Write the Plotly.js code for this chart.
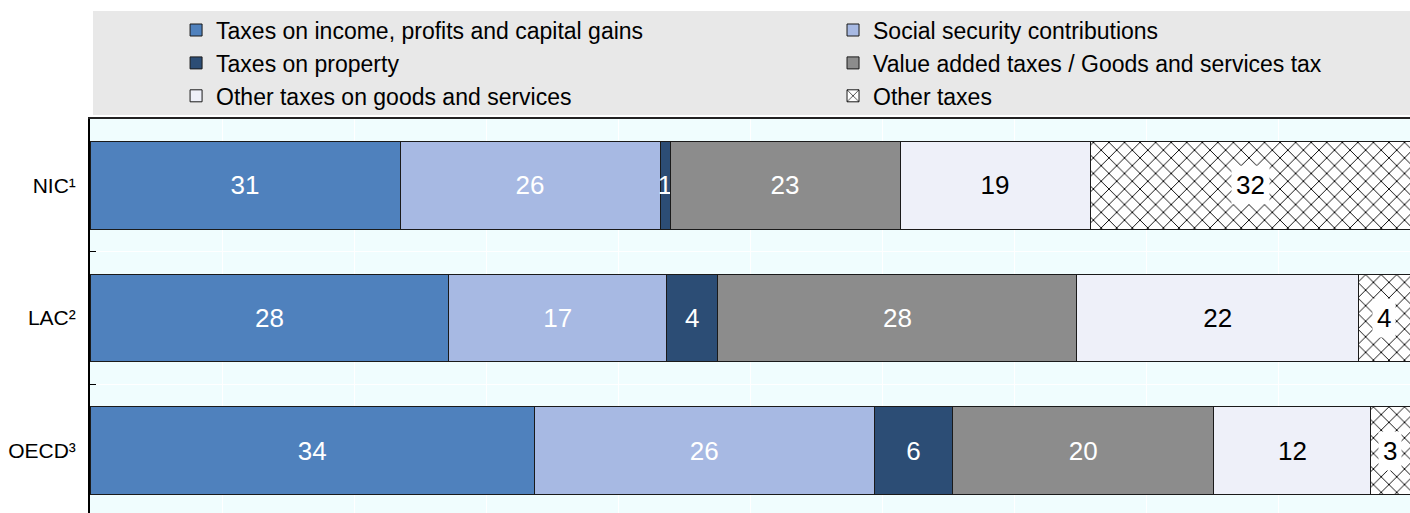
<!DOCTYPE html>
<html>
<head>
<meta charset="utf-8">
<script src="https://cdn.plot.ly/plotly-3.0.1.min.js"></script>
<style>
html,body{margin:0;padding:0;overflow:hidden;background:#fff;}
#chart{width:1410px;height:517px;}
</style>
</head>
<body>
<div id="chart"></div>
<script>
// ---- data ----
const categories = ['NIC¹', 'LAC²', 'OECD³'];
const seriesNames = [
  'Taxes on income, profits and capital gains',
  'Social security contributions',
  'Taxes on property',
  'Value added taxes / Goods and services tax',
  'Other taxes on goods and services',
  'Other taxes'
];
const incomeTax   = [31, 28, 34];
const socialSec   = [26, 17, 26];
const propertyTax = [1, 4, 6];
const vatTax      = [23, 28, 20];
const otherGoods  = [19, 22, 12];
const otherTaxes  = [32, 4, 3];

const seriesValues = [incomeTax, socialSec, propertyTax, vatTax, otherGoods, otherTaxes];
const colors = ['#4f81bd', '#a7b9e3', '#2c4d75', '#8c8c8c', '#eef0f9', '#ffffff'];
const textColors = ['#ffffff', '#ffffff', '#ffffff', '#ffffff', '#000000', '#000000'];
const legendOf = ['legend', 'legend2', 'legend', 'legend2', 'legend', 'legend2'];

// totals per category -> each bar is shown as share of its own total
const totals = categories.map((c, i) => seriesValues.reduce((s, arr) => s + arr[i], 0));
const shares = seriesValues.map(arr => arr.map((v, i) => v / totals[i] * 100));

const FONT = '"Liberation Sans Narrow", "Arial Narrow", "Liberation Sans", Arial, sans-serif';

const traces = seriesValues.map((vals, k) => {
  const t = {
    type: 'bar',
    orientation: 'h',
    name: seriesNames[k],
    y: categories,
    x: shares[k],
    width: 0.66,
    legend: legendOf[k],
    legendgroup: 'g' + k,
    marker: {color: colors[k], line: {color: '#1a1a1a', width: 1}},
    hoverinfo: 'skip'
  };
  if (k === 5) {
    t.marker.pattern = {shape: 'x', fgcolor: '#000000', bgcolor: '#ffffff', size: 11, solidity: 0.16};
    t.text = vals.map(() => '');
    t.textposition = 'none';
  } else {
    t.text = vals.map(String);
    t.textposition = 'inside';
    t.insidetextanchor = 'middle';
    t.textangle = 0;
    t.constraintext = 'none';
    t.textfont = {family: FONT, size: 26, color: textColors[k]};
  }
  return t;
});

// labels for hatched segments (with white background)
const annotations = categories.map((c, i) => {
  let start = 0;
  for (let k = 0; k < 5; k++) start += shares[k][i];
  return {
    x: start + shares[5][i] / 2, y: c, xref: 'x', yref: 'y',
    text: String(otherTaxes[i]), showarrow: false,
    font: {family: FONT, size: 26, color: '#000'},
    bgcolor: '#ffffff', borderpad: 4
  };
});

const layout = {
  width: 1410, height: 517,
  margin: {l: 90, r: 0, t: 119, b: 0},
  paper_bgcolor: '#ffffff',
  plot_bgcolor: '#f0fdfe',
  barmode: 'stack',
  bargap: 0.34,
  showlegend: true,
  font: {family: FONT, color: '#000'},
  xaxis: {
    range: [0, 100], side: 'top', showticklabels: false, ticks: '',
    showgrid: true, gridcolor: '#ffffff', gridwidth: 1, dtick: 10,
    zeroline: false, showline: true, linecolor: '#222', linewidth: 2, fixedrange: true
  },
  yaxis: {
    type: 'category', autorange: 'reversed', tickson: 'boundaries',
    ticks: 'inside', ticklen: 6, tickwidth: 1.5, tickcolor: '#000',
    showgrid: true, gridcolor: '#ffffff', gridwidth: 1,
    showline: true, linecolor: '#000', linewidth: 2,
    tickfont: {family: FONT, size: 21, color: '#000'}, ticklabelstandoff: 8,
    zeroline: false, fixedrange: true
  },
  legend: {
    x: 0.0652, y: 1.2775, xanchor: 'left', yanchor: 'top', orientation: 'v',
    bgcolor: 'rgba(0,0,0,0)', font: {family: FONT, size: 23, color: '#000'},
    tracegroupgap: 1, traceorder: 'normal'
  },
  legend2: {
    x: 0.5629, y: 1.2775, xanchor: 'left', yanchor: 'top', orientation: 'v',
    bgcolor: 'rgba(0,0,0,0)', font: {family: FONT, size: 23, color: '#000'},
    tracegroupgap: 1, traceorder: 'normal'
  },
  shapes: [{
    type: 'rect', xref: 'paper', yref: 'paper', layer: 'below',
    x0: 0.00227, x1: 1, y0: 1.0101, y1: 1.2714,
    fillcolor: '#e8e8e8', line: {width: 0}
  }],
  annotations: annotations
};

Plotly.newPlot('chart', traces, layout, {staticPlot: true, displayModeBar: false});
</script>
</body>
</html>
